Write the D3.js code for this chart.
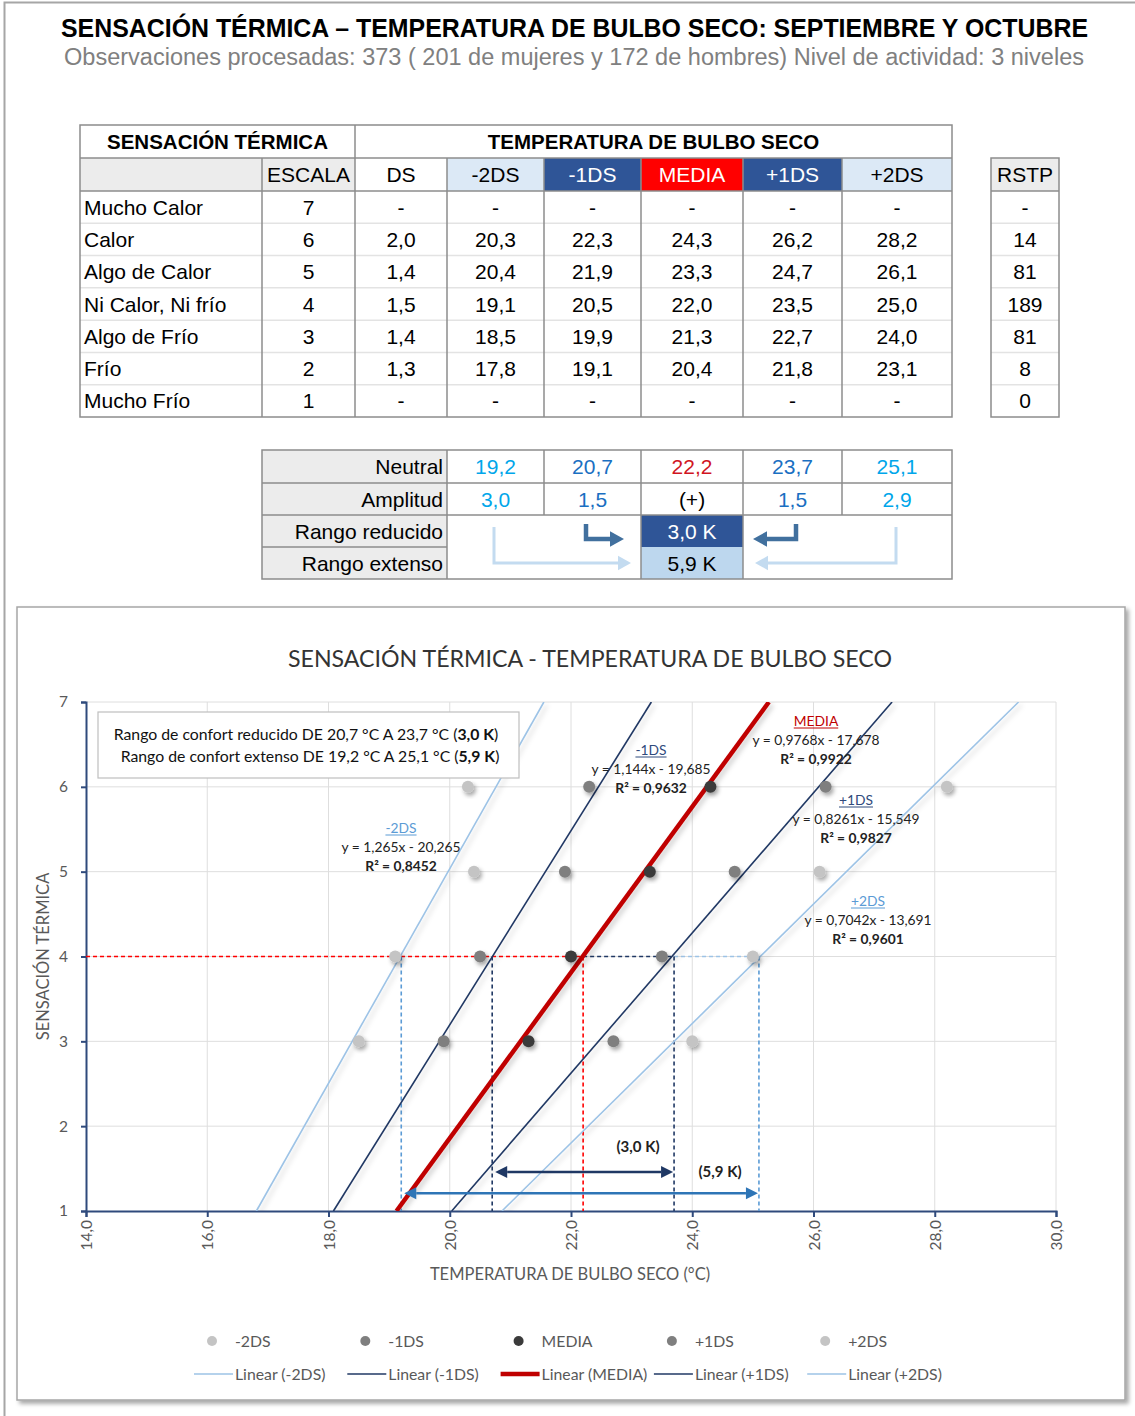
<!DOCTYPE html>
<html>
<head>
<meta charset="utf-8">
<script src="https://cdn.jsdelivr.net/npm/d3@7"></script>
<style>
  body { margin: 0; background: #fff; }
  svg { display: block; }
</style>
</head>
<body>
<svg id="page" width="1135" height="1416"></svg>
<script>
// ---------- Data ----------
const rowLabels = ["Mucho Calor", "Calor", "Algo de Calor", "Ni Calor, Ni frío", "Algo de Frío", "Frío", "Mucho Frío"];
const escala = [7, 6, 5, 4, 3, 2, 1];
const ds   = [null, 2.0, 1.4, 1.5, 1.4, 1.3, null];
const m2ds = [null, 20.3, 20.4, 19.1, 18.5, 17.8, null];
const m1ds = [null, 22.3, 21.9, 20.5, 19.9, 19.1, null];
const media = [null, 24.3, 23.3, 22.0, 21.3, 20.4, null];
const p1ds = [null, 26.2, 24.7, 23.5, 22.7, 21.8, null];
const p2ds = [null, 28.2, 26.1, 25.0, 24.0, 23.1, null];
const rstp = [null, 14, 81, 189, 81, 8, 0];

const seriesNames = ["-2DS", "-1DS", "MEDIA", "+1DS", "+2DS"];
const seriesValues = [m2ds, m1ds, media, p1ds, p2ds];
const plottedLevels = [6, 5, 4, 3];

// linear trend lines: sensación = slope * temperatura + intercept
const slopes = [1.265, 1.144, 0.9768, 0.8261, 0.7042];
const intercepts = [-20.265, -19.685, -17.678, -15.549, -13.691];
const r2 = [0.8452, 0.9632, 0.9922, 0.9827, 0.9601];

const neutralLevel = 4;
const neutral = [19.2, 20.7, 22.2, 23.7, 25.1];
const amplitud = [3.0, 1.5, null, 1.5, 2.9];
const rangoReducido = 3.0;
const rangoExtenso = 5.9;

const xTicks = [14, 16, 18, 20, 22, 24, 26, 28, 30];
const yTicks = [1, 2, 3, 4, 5, 6, 7];

// ---------- Helpers ----------
const dec1 = v => v == null ? "-" : d3.format(".1f")(v).replace(".", ",");
const numStr = v => String(v).replace(".", ",");

const svg = d3.select("#page");
const defs = svg.append("defs");

const shadow = defs.append("filter").attr("id", "ptShadow")
  .attr("x", "-50%").attr("y", "-50%").attr("width", "200%").attr("height", "200%");
shadow.append("feDropShadow").attr("dx", 2).attr("dy", 3).attr("stdDeviation", 2)
  .attr("flood-color", "#000").attr("flood-opacity", 0.35);

const lineShadow = defs.append("filter").attr("id", "lnShadow")
  .attr("x", "-20%").attr("y", "-20%").attr("width", "140%").attr("height", "140%");
lineShadow.append("feDropShadow").attr("dx", 3).attr("dy", 3).attr("stdDeviation", 2.5)
  .attr("flood-color", "#000").attr("flood-opacity", 0.18);

const frameShadow = defs.append("filter").attr("id", "frShadow")
  .attr("x", "-5%").attr("y", "-5%").attr("width", "110%").attr("height", "110%");
frameShadow.append("feDropShadow").attr("dx", 3).attr("dy", 3).attr("stdDeviation", 2)
  .attr("flood-color", "#000").attr("flood-opacity", 0.35);

svg.append("rect").attr("width", 1135).attr("height", 1416).attr("fill", "#fff");

// page border (left and top)
svg.append("path").attr("d", "M4.5,1416 V2.5 H1135").attr("fill", "none")
  .attr("stroke", "#a6a6a6").attr("stroke-width", 2);

// ---------- Heading ----------
const sans = "'Liberation Sans', Arial, Helvetica, sans-serif";
svg.append("text").attr("x", 574.5).attr("y", 37).attr("text-anchor", "middle")
  .attr("font-family", sans).attr("font-weight", "bold").attr("font-size", 26)
  .attr("textLength", 1027).attr("lengthAdjust", "spacingAndGlyphs").attr("fill", "#000")
  .text("SENSACIÓN TÉRMICA – TEMPERATURA DE BULBO SECO: SEPTIEMBRE Y OCTUBRE");
svg.append("text").attr("x", 574).attr("y", 65).attr("text-anchor", "middle")
  .attr("font-family", sans).attr("font-size", 23)
  .attr("textLength", 1020).attr("lengthAdjust", "spacingAndGlyphs").attr("fill", "#808080")
  .text("Observaciones procesadas: 373 ( 201 de mujeres y 172 de hombres) Nivel de actividad: 3 niveles");

// ---------- Main table ----------
const tbl = svg.append("g").attr("font-family", sans).attr("font-size", 21);
const colX = [80, 262, 355, 447, 544, 641, 743, 842, 952];
const topY = 125, hdrY = 158, dataY = 191, bottomY = 417;
const rowH = (bottomY - dataY) / rowLabels.length;
const gridDark = "#8c8c8c", gridLight = "#e3e3e3";

const hdrCells = [
  { t: "", fill: "#ececec", c: "#000" },
  { t: "ESCALA", fill: "#ececec", c: "#000" },
  { t: "DS", fill: "#fff", c: "#000" },
  { t: seriesNames[0], fill: "#dce9f6", c: "#000" },
  { t: seriesNames[1], fill: "#2f5597", c: "#fff" },
  { t: seriesNames[2], fill: "#ff0000", c: "#fff" },
  { t: seriesNames[3], fill: "#2f5597", c: "#fff" },
  { t: seriesNames[4], fill: "#dce9f6", c: "#000" }
];
hdrCells.forEach((h, i) => {
  tbl.append("rect").attr("x", colX[i]).attr("y", hdrY)
    .attr("width", colX[i + 1] - colX[i]).attr("height", dataY - hdrY).attr("fill", h.fill);
  tbl.append("text").attr("x", (colX[i] + colX[i + 1]) / 2).attr("y", (hdrY + dataY) / 2)
    .attr("dy", "0.36em").attr("text-anchor", "middle").attr("fill", h.c).text(h.t);
});
tbl.append("text").attr("x", (colX[0] + colX[2]) / 2).attr("y", (topY + hdrY) / 2).attr("dy", "0.36em")
  .attr("text-anchor", "middle").attr("font-weight", "bold").attr("font-size", 20.5).text("SENSACIÓN TÉRMICA");
tbl.append("text").attr("x", (colX[2] + colX[8]) / 2).attr("y", (topY + hdrY) / 2).attr("dy", "0.36em")
  .attr("text-anchor", "middle").attr("font-weight", "bold").attr("font-size", 20.5).text("TEMPERATURA DE BULBO SECO");

// light row separators
for (let i = 1; i < rowLabels.length; i++) {
  tbl.append("line").attr("x1", colX[0]).attr("x2", colX[8])
    .attr("y1", dataY + i * rowH).attr("y2", dataY + i * rowH)
    .attr("stroke", gridLight).attr("stroke-width", 1.5);
}
rowLabels.forEach((lab, i) => {
  const cy = dataY + (i + 0.5) * rowH;
  tbl.append("text").attr("x", colX[0] + 4).attr("y", cy).attr("dy", "0.36em").text(lab);
  const vals = [String(escala[i]), dec1(ds[i])].concat(seriesValues.map(s => dec1(s[i])));
  vals.forEach((v, j) => {
    tbl.append("text").attr("x", (colX[j + 1] + colX[j + 2]) / 2).attr("y", cy).attr("dy", "0.36em")
      .attr("text-anchor", "middle").text(v);
  });
});
// dark grid
[hdrY, dataY].forEach(yy => tbl.append("line").attr("x1", colX[0]).attr("x2", colX[8])
  .attr("y1", yy).attr("y2", yy).attr("stroke", gridDark).attr("stroke-width", 1.5));
colX.slice(1, 8).forEach(xx => tbl.append("line").attr("x1", xx).attr("x2", xx)
  .attr("y1", xx === colX[2] ? topY : hdrY).attr("y2", bottomY)
  .attr("stroke", gridDark).attr("stroke-width", 1.5));
tbl.append("rect").attr("x", colX[0]).attr("y", topY).attr("width", colX[8] - colX[0])
  .attr("height", bottomY - topY).attr("fill", "none").attr("stroke", gridDark).attr("stroke-width", 1.5);

// RSTP column
const rx0 = 991, rx1 = 1059;
tbl.append("rect").attr("x", rx0).attr("y", hdrY).attr("width", rx1 - rx0).attr("height", dataY - hdrY).attr("fill", "#ececec");
for (let i = 1; i < rowLabels.length; i++) {
  tbl.append("line").attr("x1", rx0).attr("x2", rx1).attr("y1", dataY + i * rowH).attr("y2", dataY + i * rowH)
    .attr("stroke", gridLight).attr("stroke-width", 1.5);
}
tbl.append("text").attr("x", (rx0 + rx1) / 2).attr("y", (hdrY + dataY) / 2).attr("dy", "0.36em")
  .attr("text-anchor", "middle").text("RSTP");
rstp.forEach((v, i) => tbl.append("text").attr("x", (rx0 + rx1) / 2).attr("y", dataY + (i + 0.5) * rowH)
  .attr("dy", "0.36em").attr("text-anchor", "middle").text(v == null ? "-" : v));
tbl.append("line").attr("x1", rx0).attr("x2", rx1).attr("y1", dataY).attr("y2", dataY)
  .attr("stroke", gridDark).attr("stroke-width", 1.5);
tbl.append("rect").attr("x", rx0).attr("y", hdrY).attr("width", rx1 - rx0).attr("height", bottomY - hdrY)
  .attr("fill", "none").attr("stroke", gridDark).attr("stroke-width", 1.5);

// ---------- Comfort range table ----------
const ct = svg.append("g").attr("font-family", sans).attr("font-size", 21);
const cX = [262, 447, 544, 641, 743, 842, 952];
const cY = [450, 483, 515, 547, 579];
const neutralColors = ["#00a6ea", "#1a6fc2", "#d0151f", "#1a6fc2", "#00a6ea"];
const rowNames = ["Neutral", "Amplitud", "Rango reducido", "Rango extenso"];

ct.append("rect").attr("x", cX[0]).attr("y", cY[0]).attr("width", cX[1] - cX[0]).attr("height", cY[4] - cY[0]).attr("fill", "#ececec");
ct.append("rect").attr("x", cX[3]).attr("y", cY[2]).attr("width", cX[4] - cX[3]).attr("height", cY[3] - cY[2]).attr("fill", "#2f5597");
ct.append("rect").attr("x", cX[3]).attr("y", cY[3]).attr("width", cX[4] - cX[3]).attr("height", cY[4] - cY[3]).attr("fill", "#bdd7ee");

rowNames.forEach((n, i) => ct.append("text").attr("x", cX[1] - 4).attr("y", (cY[i] + cY[i + 1]) / 2)
  .attr("dy", "0.36em").attr("text-anchor", "end").text(n));
neutral.forEach((v, j) => {
  const cx = (cX[j + 1] + cX[j + 2]) / 2;
  ct.append("text").attr("x", cx).attr("y", (cY[0] + cY[1]) / 2).attr("dy", "0.36em")
    .attr("text-anchor", "middle").attr("fill", neutralColors[j]).text(dec1(v));
  ct.append("text").attr("x", cx).attr("y", (cY[1] + cY[2]) / 2).attr("dy", "0.36em")
    .attr("text-anchor", "middle").attr("fill", amplitud[j] == null ? "#000" : neutralColors[j])
    .text(amplitud[j] == null ? "(+)" : dec1(amplitud[j]));
});
ct.append("text").attr("x", (cX[3] + cX[4]) / 2).attr("y", (cY[2] + cY[3]) / 2).attr("dy", "0.36em")
  .attr("text-anchor", "middle").attr("fill", "#fff").text(dec1(rangoReducido) + " K");
ct.append("text").attr("x", (cX[3] + cX[4]) / 2).attr("y", (cY[3] + cY[4]) / 2).attr("dy", "0.36em")
  .attr("text-anchor", "middle").attr("fill", "#000").text(dec1(rangoExtenso) + " K");

// grid of the comfort table
[cY[1], cY[2]].forEach(yy => ct.append("line").attr("x1", cX[0]).attr("x2", cX[6]).attr("y1", yy).attr("y2", yy)
  .attr("stroke", gridDark).attr("stroke-width", 1.5));
ct.append("line").attr("x1", cX[0]).attr("x2", cX[1]).attr("y1", cY[3]).attr("y2", cY[3]).attr("stroke", gridDark).attr("stroke-width", 1.5);
cX.slice(1, 6).forEach(xx => {
  const full = (xx === cX[1] || xx === cX[3] || xx === cX[4]);
  ct.append("line").attr("x1", xx).attr("x2", xx).attr("y1", cY[0]).attr("y2", full ? cY[4] : cY[2])
    .attr("stroke", gridDark).attr("stroke-width", 1.5);
});
ct.append("rect").attr("x", cX[0]).attr("y", cY[0]).attr("width", cX[6] - cX[0]).attr("height", cY[4] - cY[0])
  .attr("fill", "none").attr("stroke", gridDark).attr("stroke-width", 1.5);

// bent arrows pointing to the range cells
function bentArrow(g, x0, y0, y1, x1, color, w, head) {
  const dir = x1 > x0 ? 1 : -1;
  const xb = x1 - dir * head;
  g.append("path").attr("d", `M${x0},${y0} V${y1} H${xb}`).attr("fill", "none")
    .attr("stroke", color).attr("stroke-width", w).attr("stroke-linejoin", "miter");
  g.append("path").attr("d", `M${xb},${y1 - head * 0.55} L${x1},${y1} L${xb},${y1 + head * 0.55} Z`).attr("fill", color);
}
bentArrow(ct, 494, 527, 563, 631, "#c3dbf0", 3, 13);
bentArrow(ct, 896, 527, 563, 755, "#c3dbf0", 3, 13);
bentArrow(ct, 586, 524, 539, 624, "#41709e", 4.5, 14);
bentArrow(ct, 796, 524, 539, 753, "#41709e", 4.5, 14);

// ---------- Chart ----------
const chartFont = "Lato, 'Open Sans', sans-serif";
const ch = svg.append("g").attr("font-family", chartFont);
ch.append("rect").attr("x", 17).attr("y", 607).attr("width", 1108).attr("height", 793)
  .attr("fill", "#fff").attr("stroke", "#a6a6a6").attr("stroke-width", 1.5).attr("filter", "url(#frShadow)");

ch.append("text").attr("x", 590).attr("y", 667).attr("text-anchor", "middle").attr("font-size", 24)
  .attr("fill", "#333").attr("textLength", 604).attr("lengthAdjust", "spacingAndGlyphs")
  .text("SENSACIÓN TÉRMICA - TEMPERATURA DE BULBO SECO");

const x = d3.scaleLinear().domain([14, 30]).range([86, 1056]);
const y = d3.scaleLinear().domain([1, 7]).range([1211, 702]);

defs.append("clipPath").attr("id", "plotClip").append("rect")
  .attr("x", x(14)).attr("y", y(7)).attr("width", x(30) - x(14)).attr("height", y(1) - y(7));

// gridlines
const grid = ch.append("g").attr("stroke", "#dedede").attr("stroke-width", 1);
xTicks.filter(t => t > 14).forEach(t => grid.append("line").attr("x1", x(t)).attr("x2", x(t)).attr("y1", y(1)).attr("y2", y(7)));
yTicks.filter(t => t > 1).forEach(t => grid.append("line").attr("x1", x(14)).attr("x2", x(30)).attr("y1", y(t)).attr("y2", y(t)));

// axes
const axisColor = "#2f4a7c";
const yAxis = ch.append("g").attr("transform", `translate(${x(14)},0)`)
  .call(d3.axisLeft(y).tickValues(yTicks).tickFormat(d3.format("d")).tickSize(5).tickPadding(13));
const xAxis = ch.append("g").attr("transform", `translate(0,${y(1)})`)
  .call(d3.axisBottom(x).tickValues(xTicks).tickFormat(dec1).tickSize(6));
[yAxis, xAxis].forEach(a => {
  a.select(".domain").attr("stroke", axisColor).attr("stroke-width", 2);
  a.selectAll(".tick line").attr("stroke", axisColor).attr("stroke-width", 2);
  a.selectAll("text").attr("fill", "#595959").attr("font-family", chartFont).attr("font-size", 15.5);
});
xAxis.selectAll(".tick text").attr("transform", "rotate(-90)").attr("text-anchor", "end")
  .attr("x", -9).attr("y", 0).attr("dy", "0.36em");

ch.append("text").attr("transform", `translate(49,${y(4)}) rotate(-90)`).attr("text-anchor", "middle")
  .attr("font-size", 16.5).attr("fill", "#595959").text("SENSACIÓN TÉRMICA");
ch.append("text").attr("x", 570).attr("y", 1280).attr("text-anchor", "middle")
  .attr("font-size", 16.5).attr("fill", "#595959").text("TEMPERATURA DE BULBO SECO (°C)");

const plot = ch.append("g").attr("clip-path", "url(#plotClip)");

// reference dashes at the neutral level
const darkBlue = "#203864", lightBlue = "#9dc3e6", midBlue = "#5b9bd5", red = "#ff0000";
const refColors = [midBlue, darkBlue, red, darkBlue, midBlue];
function dash(x1, y1, x2, y2, color) {
  plot.append("line").attr("x1", x(x1)).attr("y1", y(y1)).attr("x2", x(x2)).attr("y2", y(y2))
    .attr("stroke", color).attr("stroke-width", 1.6).attr("stroke-dasharray", "4,3");
}
dash(14, neutralLevel, neutral[2], neutralLevel, red);
dash(neutral[2], neutralLevel, neutral[3], neutralLevel, darkBlue);
dash(neutral[3], neutralLevel, neutral[4], neutralLevel, lightBlue);
neutral.forEach((v, i) => dash(v, neutralLevel, v, 1, refColors[i]));

// trend lines
const lineColors = [lightBlue, darkBlue, "#c00000", darkBlue, lightBlue];
const lineWidths = [1.6, 1.6, 4.5, 1.6, 1.6];
slopes.forEach((a, i) => {
  const b = intercepts[i];
  plot.append("line").attr("x1", x((1 - b) / a)).attr("y1", y(1)).attr("x2", x((7 - b) / a)).attr("y2", y(7))
    .attr("stroke", lineColors[i]).attr("stroke-width", lineWidths[i]).attr("filter", "url(#lnShadow)");
});

// scatter points
const pointColors = ["#c4c4c4", "#7f7f7f", "#3b3b3b", "#7f7f7f", "#c4c4c4"];
seriesValues.forEach((vals, i) => {
  const pts = plottedLevels.map(l => ({ t: vals[escala.indexOf(l)], s: l }));
  plot.append("g").selectAll("circle").data(pts).join("circle")
    .attr("cx", d => x(d.t)).attr("cy", d => y(d.s)).attr("r", 6)
    .attr("fill", pointColors[i]).attr("filter", "url(#ptShadow)");
});

// range arrows
function rangeArrow(x1v, x2v, lev, color, w) {
  const y0 = y(lev), h = 12;
  const xa = x(x1v) + 3, xb = x(x2v) - 1;
  ch.append("line").attr("x1", xa + h).attr("x2", xb - h).attr("y1", y0).attr("y2", y0)
    .attr("stroke", color).attr("stroke-width", w);
  ch.append("path").attr("d", `M${xa},${y0} L${xa + h},${y0 - 6} L${xa + h},${y0 + 6} Z`).attr("fill", color);
  ch.append("path").attr("d", `M${xb},${y0} L${xb - h},${y0 - 6} L${xb - h},${y0 + 6} Z`).attr("fill", color);
}
rangeArrow(neutral[1], neutral[3], 1.46, "#1f3864", 2.5);
rangeArrow(neutral[0], neutral[4], 1.21, "#2e75b6", 2.5);
ch.append("text").attr("x", 638).attr("y", 1152).attr("text-anchor", "middle").attr("font-size", 15)
  .attr("font-weight", "bold").attr("fill", "#222").text(`(${dec1(rangoReducido)} K)`);
ch.append("text").attr("x", 720).attr("y", 1177).attr("text-anchor", "middle").attr("font-size", 15)
  .attr("font-weight", "bold").attr("fill", "#222").text(`(${dec1(rangoExtenso)} K)`);

// trend equations
const eqPos = [[401, 828], [651, 750], [816, 721], [856, 800], [868, 901]];
const eqColors = ["#5b9bd5", "#2f4a7c", "#c00000", "#2f4a7c", "#5b9bd5"];
const eqG = ch.append("g").attr("font-size", 13.8).attr("text-anchor", "middle").attr("fill", "#222");
seriesNames.forEach((n, i) => {
  const [ex, ey] = eqPos[i];
  const t = eqG.append("text").attr("x", ex).attr("y", ey + 5).attr("fill", eqColors[i]).text(n);
  const w = t.node().getComputedTextLength();
  eqG.append("line").attr("x1", ex - w / 2).attr("x2", ex + w / 2).attr("y1", ey + 7).attr("y2", ey + 7)
    .attr("stroke", eqColors[i]).attr("stroke-width", 1);
  eqG.append("text").attr("x", ex).attr("y", ey + 24)
    .text(`y = ${numStr(slopes[i])}x - ${numStr(Math.abs(intercepts[i]))}`);
  eqG.append("text").attr("x", ex).attr("y", ey + 43).attr("font-weight", "bold")
    .text(`R² = ${numStr(r2[i])}`);
});

// comfort range note
ch.append("rect").attr("x", 98).attr("y", 712).attr("width", 421).attr("height", 66)
  .attr("fill", "#fff").attr("stroke", "#bfbfbf").attr("stroke-width", 1.2);
const note = ch.append("g").attr("font-size", 15.8).attr("text-anchor", "middle").attr("fill", "#111");
const n1 = note.append("text").attr("x", 306).attr("y", 740);
n1.append("tspan").text(`Rango de confort reducido DE ${dec1(neutral[1])} °C A ${dec1(neutral[3])} °C (`);
n1.append("tspan").attr("font-weight", "bold").text(`${dec1(rangoReducido)} K`);
n1.append("tspan").text(")");
const n2 = note.append("text").attr("x", 310).attr("y", 762);
n2.append("tspan").text(`Rango de confort extenso DE ${dec1(neutral[0])} °C A ${dec1(neutral[4])} °C  (`);
n2.append("tspan").attr("font-weight", "bold").text(`${dec1(rangoExtenso)} K`);
n2.append("tspan").text(")");

// legend
const leg = ch.append("g").attr("font-size", 15.8).attr("fill", "#595959");
seriesNames.forEach((n, i) => {
  const mx = 212 + i * 153.3;
  leg.append("circle").attr("cx", mx).attr("cy", 1341).attr("r", 5).attr("fill", pointColors[i]);
  leg.append("text").attr("x", mx + 23).attr("y", 1341).attr("dy", "0.36em").text(n);
  const lx = 194 + i * 153.3;
  leg.append("line").attr("x1", lx).attr("x2", lx + 39).attr("y1", 1374).attr("y2", 1374)
    .attr("stroke", lineColors[i]).attr("stroke-width", i === 2 ? 4.5 : 1.6);
  leg.append("text").attr("x", lx + 41).attr("y", 1374).attr("dy", "0.36em").text(`Linear (${n})`);
});
</script>
</body>
</html>
